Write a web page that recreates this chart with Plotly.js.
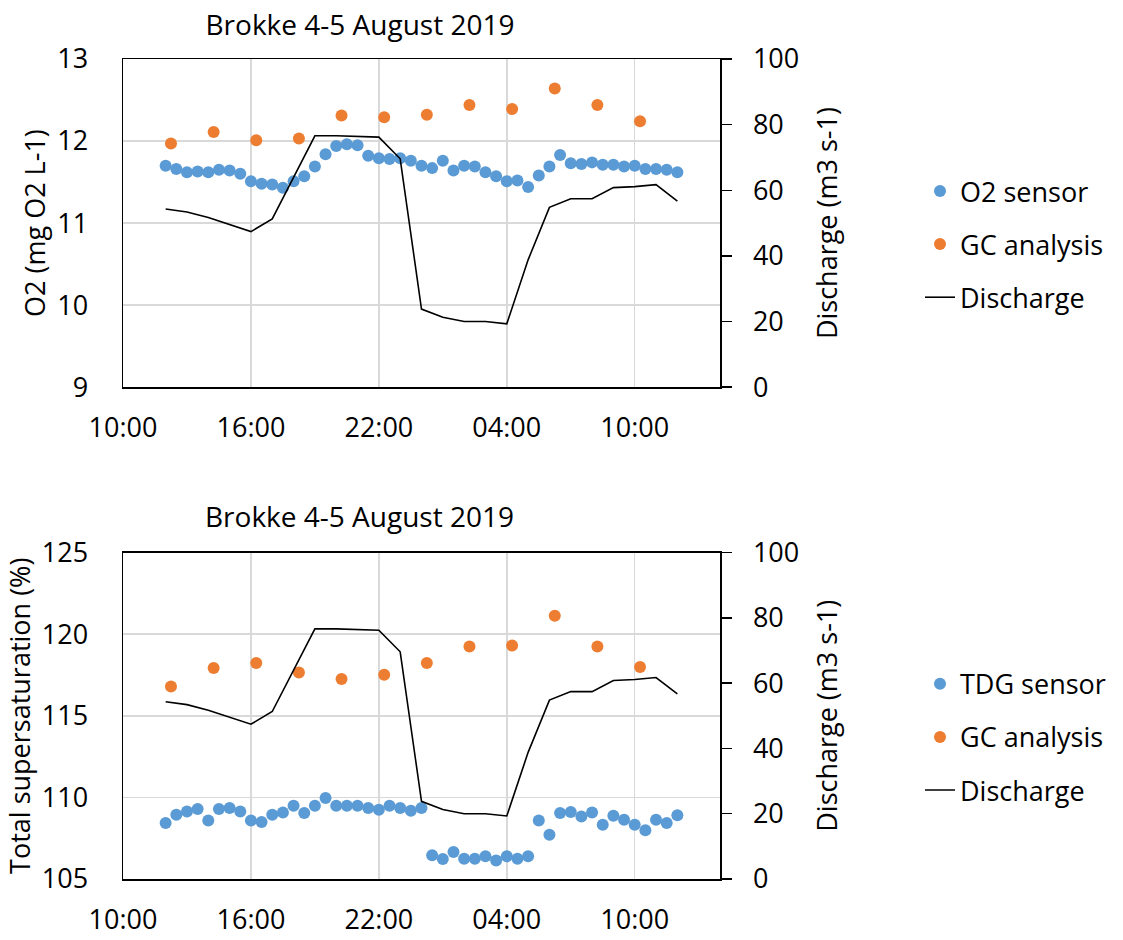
<!DOCTYPE html>
<html>
<head>
<meta charset="utf-8">
<script src="https://cdn.plot.ly/plotly-3.0.1.min.js"></script>
<style>html,body{margin:0;padding:0;background:#fff;}#chart{width:1123px;height:940px;}</style>
</head>
<body>
<div id="chart"></div>
<script>
// ---- Data ----
var sensorTimes = [
 '2019-08-04 12:00','2019-08-04 12:30','2019-08-04 13:00','2019-08-04 13:30','2019-08-04 14:00','2019-08-04 14:30',
 '2019-08-04 15:00','2019-08-04 15:30','2019-08-04 16:00','2019-08-04 16:30','2019-08-04 17:00','2019-08-04 17:30',
 '2019-08-04 18:00','2019-08-04 18:30','2019-08-04 19:00','2019-08-04 19:30','2019-08-04 20:00','2019-08-04 20:30',
 '2019-08-04 21:00','2019-08-04 21:30','2019-08-04 22:00','2019-08-04 22:30','2019-08-04 23:00','2019-08-04 23:30',
 '2019-08-05 00:00','2019-08-05 00:30','2019-08-05 01:00','2019-08-05 01:30','2019-08-05 02:00','2019-08-05 02:30',
 '2019-08-05 03:00','2019-08-05 03:30','2019-08-05 04:00','2019-08-05 04:30','2019-08-05 05:00','2019-08-05 05:30',
 '2019-08-05 06:00','2019-08-05 06:30','2019-08-05 07:00','2019-08-05 07:30','2019-08-05 08:00','2019-08-05 08:30',
 '2019-08-05 09:00','2019-08-05 09:30','2019-08-05 10:00','2019-08-05 10:30','2019-08-05 11:00','2019-08-05 11:30',
 '2019-08-05 12:00'
];
var o2Sensor = [
 11.70,11.66,11.62,11.63,11.62,11.65,11.64,11.60,11.51,11.48,11.47,11.43,
 11.51,11.57,11.69,11.84,11.94,11.96,11.95,11.82,11.79,11.78,11.79,11.76,
 11.70,11.67,11.76,11.64,11.70,11.69,11.62,11.57,11.51,11.52,11.44,11.58,
 11.69,11.83,11.73,11.72,11.74,11.71,11.71,11.69,11.70,11.66,11.66,11.65,
 11.62
];
var tdgSensor = [
 108.43,108.94,109.14,109.29,108.59,109.29,109.35,109.14,108.59,108.49,108.94,109.08,
 109.49,109.04,109.49,109.96,109.49,109.49,109.49,109.35,109.24,109.49,109.35,109.18,
 109.35,106.45,106.22,106.65,106.24,106.24,106.39,106.14,106.39,106.24,106.39,108.59,
 107.71,109.04,109.10,108.83,109.08,108.33,108.88,108.63,108.33,107.98,108.63,108.43,
 108.90
];
var gcTimes = [
 '2019-08-04 12:15','2019-08-04 14:15','2019-08-04 16:15','2019-08-04 18:15','2019-08-04 20:15','2019-08-04 22:15',
 '2019-08-05 00:15','2019-08-05 02:15','2019-08-05 04:15','2019-08-05 06:15','2019-08-05 08:15','2019-08-05 10:15'
];
var gcO2  = [11.97,12.11,12.01,12.03,12.31,12.29,12.32,12.44,12.39,12.64,12.44,12.24];
var gcTdg = [116.79,117.92,118.23,117.65,117.25,117.51,118.23,119.24,119.30,121.12,119.24,117.98];
var dischargeTimes = [
 '2019-08-04 12:00','2019-08-04 13:00','2019-08-04 14:00','2019-08-04 15:00','2019-08-04 16:00','2019-08-04 17:00',
 '2019-08-04 18:00','2019-08-04 19:00','2019-08-04 20:00','2019-08-04 21:00','2019-08-04 22:00','2019-08-04 23:00',
 '2019-08-05 00:00','2019-08-05 01:00','2019-08-05 02:00','2019-08-05 03:00','2019-08-05 04:00','2019-08-05 05:00',
 '2019-08-05 06:00','2019-08-05 07:00','2019-08-05 08:00','2019-08-05 09:00','2019-08-05 10:00','2019-08-05 11:00',
 '2019-08-05 12:00'
];
var discharge = [
 54.3,53.4,51.7,49.5,47.4,51.3,64.0,76.6,76.6,76.5,76.2,69.6,
 23.8,21.3,20.0,20.0,19.3,38.8,54.8,57.4,57.4,60.8,61.1,61.7,
 56.7
];
var chartTitle = 'Brokke 4-5 August 2019';

// ---- Styling ----
var FONT = 'Open Sans, Noto Sans, sans-serif';
var BLUE = '#5B9BD5', ORANGE = '#ED7D31';
var FS = 27;
var W = 1123, H = 940;
var L = 123, R = 400, T = 59, B = 60.7;
var PH = H - T - B;
function py(px) { return (H - B - px) / PH; }
function pxX(px) { return (px - L) / (W - L - R); }

var traces = [
 {x: sensorTimes, y: o2Sensor, type: 'scatter', mode: 'markers', name: 'O2 sensor',
  marker: {color: BLUE, size: 12}, xaxis: 'x', yaxis: 'y', legend: 'legend', legendgroup: 'a'},
 {x: gcTimes, y: gcO2, type: 'scatter', mode: 'markers', name: 'GC analysis',
  marker: {color: ORANGE, size: 12}, xaxis: 'x', yaxis: 'y', legend: 'legend', legendgroup: 'b'},
 {x: dischargeTimes, y: discharge, type: 'scatter', mode: 'lines', name: 'Discharge',
  line: {color: '#000', width: 1.6}, xaxis: 'x', yaxis: 'y2', legend: 'legend', legendgroup: 'c'},
 {x: sensorTimes, y: tdgSensor, type: 'scatter', mode: 'markers', name: 'TDG sensor',
  marker: {color: BLUE, size: 12}, xaxis: 'x2', yaxis: 'y3', legend: 'legend2', legendgroup: 'd'},
 {x: gcTimes, y: gcTdg, type: 'scatter', mode: 'markers', name: 'GC analysis',
  marker: {color: ORANGE, size: 12}, xaxis: 'x2', yaxis: 'y3', legend: 'legend2', legendgroup: 'e'},
 {x: dischargeTimes, y: discharge, type: 'scatter', mode: 'lines', name: 'Discharge',
  line: {color: '#000', width: 1.6}, xaxis: 'x2', yaxis: 'y4', legend: 'legend2', legendgroup: 'f'}
];

function xAxis(anchor) {
  return {
    anchor: anchor, domain: [0, 1], type: 'date',
    range: ['2019-08-04 10:00', '2019-08-05 14:00'],
    tick0: '2019-08-04 10:00', dtick: 21600000, tickformat: '%H:%M',
    showgrid: true, gridcolor: '#d9d9d9', gridwidth: 1.5,
    showline: true, linecolor: '#000', linewidth: 1.5, mirror: true,
    ticks: '', ticklabelstandoff: 16, zeroline: false, automargin: false,
    tickfont: {size: FS, color: '#000', family: FONT}
  };
}
function leftAxis(domain, anchor, range, dtick, title) {
  return {
    domain: domain, anchor: anchor, range: range, dtick: dtick,
    showgrid: true, gridcolor: '#d9d9d9', gridwidth: 1.5,
    showline: true, linecolor: '#000', linewidth: 1.5, mirror: true,
    ticks: '', ticklabelstandoff: 28, zeroline: false, automargin: false,
    tickfont: {size: FS, color: '#000', family: FONT},
    title: {text: title, font: {size: FS, color: '#000', family: FONT}, standoff: 3}
  };
}
function rightAxis(over, anchor) {
  return {
    overlaying: over, anchor: anchor, side: 'right', range: [0, 100], dtick: 20,
    showgrid: false, showline: true, linecolor: '#000', linewidth: 1.5,
    ticks: 'outside', ticklen: 10, tickwidth: 1.5, tickcolor: '#000',
    ticklabelstandoff: 16, zeroline: false, automargin: false,
    tickfont: {size: FS, color: '#000', family: FONT},
    title: {text: 'Discharge (m3 s-1)', font: {size: FS, color: '#000', family: FONT}, standoff: 20}
  };
}

var layout = {
  width: W, height: H,
  margin: {l: L, r: R, t: T, b: B, pad: 0},
  paper_bgcolor: '#fff', plot_bgcolor: '#fff',
  font: {family: FONT, color: '#000', size: FS},
  title: {text: chartTitle, font: {size: 28, color: '#000', family: FONT},
          xref: 'container', x: 360 / W, xanchor: 'center',
          yref: 'container', y: 1 - 25 / H, yanchor: 'middle'},
  xaxis: xAxis('y'),
  yaxis: leftAxis([py(387.3), 1], 'x', [9, 13], 1, 'O2 (mg O2 L-1)'),
  yaxis2: rightAxis('y', 'x'),
  xaxis2: xAxis('y3'),
  yaxis3: leftAxis([0, py(552.7)], 'x2', [105, 125], 5, 'Total supersaturation (%)'),
  yaxis4: rightAxis('y3', 'x2'),
  legend: {x: pxX(924), xanchor: 'left', y: py(167), yanchor: 'top',
           font: {size: FS, color: '#000', family: FONT}, traceorder: 'grouped',
           tracegroupgap: 15, bgcolor: 'rgba(0,0,0,0)'},
  legend2: {x: pxX(924), xanchor: 'left', y: py(660), yanchor: 'top',
           font: {size: FS, color: '#000', family: FONT}, traceorder: 'grouped',
           tracegroupgap: 15, bgcolor: 'rgba(0,0,0,0)'},
  annotations: [
    {text: chartTitle, xref: 'paper', yref: 'paper', x: pxX(361), y: py(516),
     xanchor: 'center', yanchor: 'middle', showarrow: false,
     font: {size: 28, color: '#000', family: FONT}}
  ],
  showlegend: true
};

Plotly.newPlot('chart', traces, layout, {staticPlot: true, displayModeBar: false});
</script>
</body>
</html>
